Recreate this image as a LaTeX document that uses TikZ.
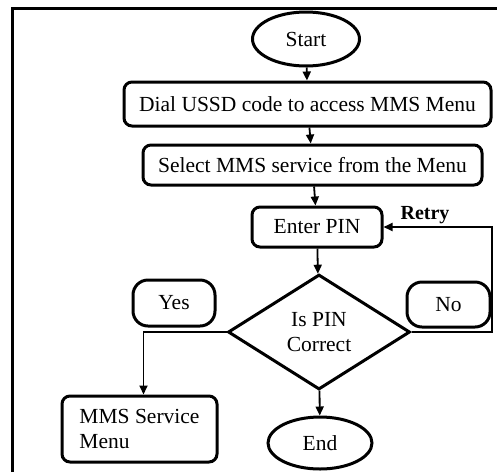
\documentclass[tikz,border=0pt]{standalone}
\usepackage{fontspec}
\setmainfont{Liberation Serif}
\usetikzlibrary{shapes.geometric,arrows.meta}
\begin{document}
\begin{tikzpicture}[x=1pt,y=-1pt,
  every node/.style={font=\fontsize{21.5}{25}\selectfont, inner sep=0pt},
  box/.style={draw, line width=3pt, rounded corners=8pt},
  term/.style={draw, ellipse, line width=3pt},
  pill/.style={draw, line width=3pt, rounded corners=15pt},
  conn/.style={line width=1.8pt, -{Triangle[length=9pt,width=8pt]}},
  plain/.style={line width=1.8pt}]
\useasboundingbox (0,0) rectangle (497,472);
% frame
\draw[line width=3pt] (12,472) -- (12,8) -- (497,8);
% nodes
\node[term, minimum width=107pt, minimum height=54pt] (start) at (306,39) {Start};
\node[box, minimum width=367pt, minimum height=44pt] (dial) at (307.5,104) {Dial USSD code to access MMS Menu};
\node[box, minimum width=339pt, minimum height=40pt] (sel) at (312.5,165) {Select MMS service from the Menu};
\node[box, minimum width=130pt, minimum height=40pt] (pin) at (317,227) {Enter PIN};
\node[draw, diamond, line width=3pt, minimum width=182pt, minimum height=115pt, align=center] (dia) at (319,332) {Is PIN\\[0pt]Correct};
\node[pill, minimum width=82pt, minimum height=46pt] (yes) at (174,303) {Yes};
\node[pill, minimum width=83pt, minimum height=45pt] (no) at (448.5,304.5) {No};
\node[box, minimum width=155pt, minimum height=66pt, align=left] (mms) at (139.5,429) {MMS Service\\Menu};
\node[font=\fontsize{20}{23}\selectfont\bfseries] (retry) at (425,215) {Retry};
\node[term, minimum width=104pt, minimum height=52pt] (end) at (320,443) {End};
% connectors
\draw[conn] (start) -- (dial);
\draw[conn] (dial) -- (sel);
\draw[conn] (sel) -- (pin);
\draw[conn] (pin) -- (dia);
\draw[conn] (dia) -- (end);
\coordinate (r1) at (492,332);
\coordinate (r2) at (492,227);
\draw[conn] (dia.east) -- (r1) -- (r2) -- (pin.east);
\draw[conn] (dia.west) -| ([xshift=4pt]mms.north);
\end{tikzpicture}
\end{document}
